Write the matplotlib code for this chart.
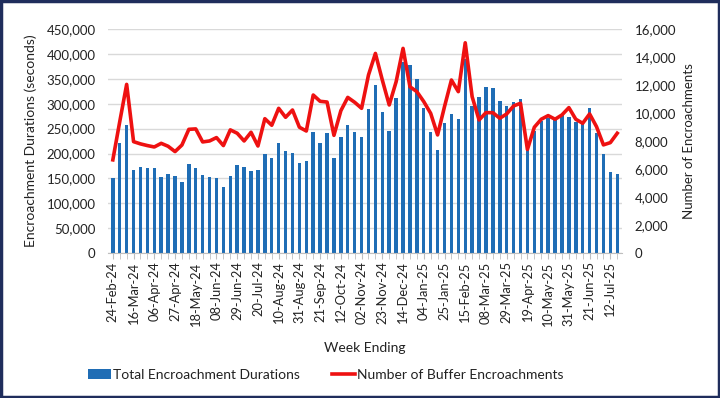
import numpy as np
import pandas as pd
import matplotlib
matplotlib.use("Agg")
import matplotlib.pyplot as plt
from matplotlib.ticker import FuncFormatter, MultipleLocator
from matplotlib.patches import Rectangle

plt.rcParams["font.family"] = ["Lato", "DejaVu Sans"]

# weekly categories (week ending)
weeks = pd.date_range("2024-02-24", periods=74, freq="7D")
week_labels = [d.strftime("%d-%b-%y") for d in weeks]

# total encroachment durations (seconds)
durations = [
    150000, 222000, 257000, 166000, 173000, 171000, 171000, 153000, 159000, 155000,
    143000, 178000, 171000, 157000, 153000, 150000, 133000, 155000, 177000, 173000,
    165000, 166000, 200000, 192000, 221000, 205000, 201000, 181000, 185000, 244000,
    222000, 241000, 191000, 233000, 258000, 243000, 233000, 289000, 337000, 283000,
    245000, 312000, 383000, 377000, 349000, 291000, 244000, 208000, 262000, 280000,
    269000, 390000, 295000, 313000, 333000, 332000, 305000, 295000, 303000, 309000,
    215000, 245000, 265000, 272000, 268000, 280000, 273000, 263000, 262000, 292000,
    242000, 199000, 163000, 159000,
]

# number of buffer encroachments
counts = [
    6660, 9390, 12050, 7960, 7800, 7680, 7580, 7840, 7630, 7250,
    7720, 8840, 8870, 7940, 8010, 8250, 7680, 8800, 8560, 8010,
    8630, 7650, 9600, 9130, 10340, 9700, 10220, 8990, 8720, 11290,
    10840, 10790, 8410, 10170, 11120, 10770, 10340, 12720, 14260, 12360,
    10580, 12240, 14620, 11880, 11530, 10820, 9980, 8440, 10460, 12360,
    11530, 15020, 11170, 9510, 10030, 10030, 9630, 9940, 10510, 10700,
    7400, 8990, 9560, 9820, 9560, 9870, 10390, 9560, 9270, 9940,
    9030, 7730, 7890, 8560,
]

bar_color = "#1F6DB5"
line_color = "#EE1111"
text_color = "#222222"

x = np.arange(len(weeks))

fig, ax = plt.subplots(figsize=(7.2, 3.98), dpi=100)
fig.subplots_adjust(left=0.15, right=0.864, top=0.927, bottom=0.364)

bars = ax.bar(x, durations, width=0.5, color=bar_color, zorder=2,
              label="Total Encroachment Durations")
ax.set_xlim(-0.7, len(weeks) - 0.3)
ax.set_ylim(0, 450000)
ax.yaxis.set_major_locator(MultipleLocator(50000))
ax.yaxis.set_major_formatter(FuncFormatter(lambda v, p: f"{int(v):,}"))
ax.grid(axis="y", color="#D9D9D9", linewidth=1.0, zorder=0)
ax.set_axisbelow(True)

ax.set_xticks(x[::3])
ax.set_xticklabels(week_labels[::3], rotation=90, fontsize=9.3, color=text_color)
ax.set_xticks(x, minor=True)
ax.tick_params(axis="x", which="both", length=4, color="#BFBFBF", pad=2)
ax.tick_params(axis="y", length=0, labelsize=9.5, labelcolor=text_color, pad=9)

for s in ["top", "left", "right"]:
    ax.spines[s].set_visible(False)
ax.spines["bottom"].set_color("#BFBFBF")

ax.set_ylabel("Encroachment Durations (seconds)", fontsize=10, color=text_color)
ax.yaxis.set_label_coords(-0.138, 0.5)
ax.set_xlabel("Week Ending", fontsize=10, color=text_color, labelpad=12)

ax2 = ax.twinx()
line, = ax2.plot(x, counts, color=line_color, linewidth=2.6, zorder=3,
                 solid_joinstyle="round", label="Number of Buffer Encroachments")
ax2.set_ylim(0, 16000)
ax2.yaxis.set_major_locator(MultipleLocator(2000))
ax2.yaxis.set_major_formatter(FuncFormatter(lambda v, p: f"{int(v):,}"))
ax2.tick_params(axis="y", length=0, labelsize=9.5, labelcolor=text_color, pad=9)
for s in ["top", "left", "right", "bottom"]:
    ax2.spines[s].set_visible(False)
ax2.set_ylabel("Number of Encroachments", fontsize=9.5, color=text_color)
ax2.yaxis.set_label_coords(1.119, 0.5)

fig.legend(handles=[bars, line], loc="center", bbox_to_anchor=(0.452, 0.058),
           ncol=2, frameon=False, fontsize=10, columnspacing=2.3,
           handlelength=1.7, handletextpad=0.1, labelcolor=text_color)

fig.patches.append(Rectangle((0.002, 0.003), 0.996, 0.994, transform=fig.transFigure,
                             fill=False, edgecolor="#1F2D5C", linewidth=2.5))

fig.savefig("out.png", dpi=100)
